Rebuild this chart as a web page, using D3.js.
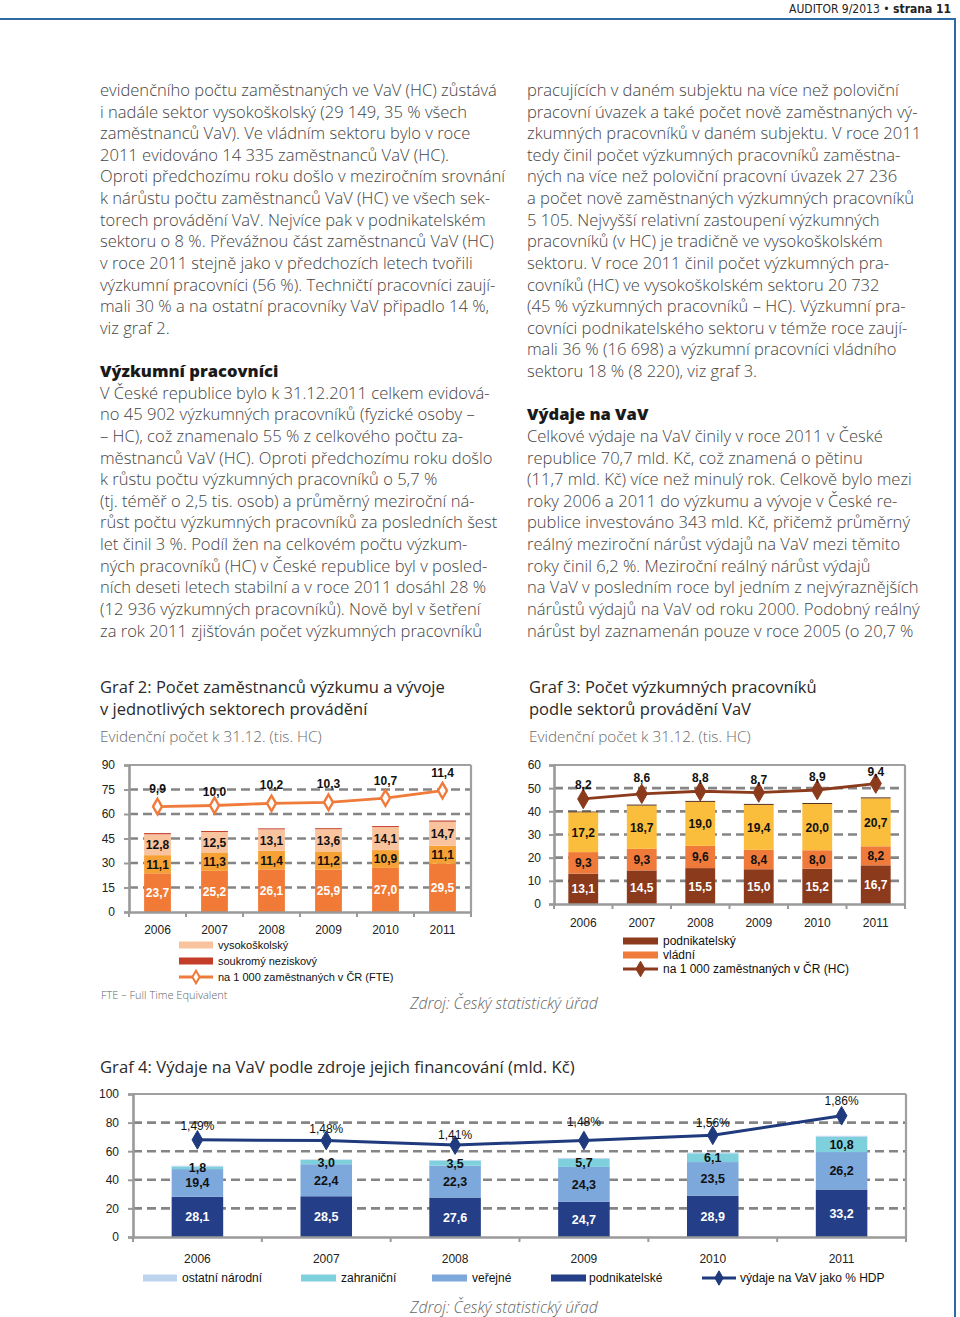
<!DOCTYPE html>
<html><head><meta charset="utf-8">
<script src="https://cdn.jsdelivr.net/npm/d3@7"></script>
<style>
html,body{margin:0;padding:0;background:#fff;}
svg{display:block;}
</style></head>
<body>
<script>
// ---------------- DATA ----------------
const years = ["2006","2007","2008","2009","2010","2011"];

// Graf 2 (tis. HC / FTE)
const g2Podnik = [23.7,25.2,26.1,25.9,27.0,29.5];
const g2Vladni = [11.1,11.3,11.4,11.2,10.9,11.1];
const g2Vysoko = [12.8,12.5,13.1,13.6,14.1,14.7];
const g2Nezisk = [0.7,0.6,0.6,0.6,0.6,0.7];
const g2Line   = [9.9,10.0,10.2,10.3,10.7,11.4];

// Graf 3
const g3Podnik = [13.1,14.5,15.5,15.0,15.2,16.7];
const g3Vladni = [9.3,9.3,9.6,8.4,8.0,8.2];
const g3Vysoko = [17.2,18.7,19.0,19.4,20.0,20.7];
const g3Nezisk = [0.3,0.4,0.4,0.4,0.4,0.4];
const g3Line   = [8.2,8.6,8.8,8.7,8.9,9.4];

// Graf 4 (mld. Kč)
const g4Podnik  = [28.1,28.5,27.6,24.7,28.9,33.2];
const g4Verejne = [19.4,22.4,22.3,24.3,23.5,26.2];
const g4Zahran  = [1.8,3.0,3.5,5.7,6.1,10.8];
const g4Ostatni = [0.5,0.4,0.4,0.6,0.5,0.6];
const g4Hdp     = [1.49,1.48,1.41,1.48,1.56,1.86];

const g2Ticks = [0,15,30,45,60,75,90];
const g3Ticks = [0,10,20,30,40,50,60];
const g4Ticks = [0,20,40,60,80,100];

const col1 = [
"evidenčního počtu zaměstnaných ve VaV (HC) zůstává",
"i nadále sektor vysokoškolský (29 149, 35 % všech",
"zaměstnanců VaV). Ve vládním sektoru bylo v roce",
"2011 evidováno 14 335 zaměstnanců VaV (HC).",
"Oproti předchozímu roku došlo v meziročním srovnání",
"k nárůstu počtu zaměstnanců VaV (HC) ve všech sek-",
"torech provádění VaV. Nejvíce pak v podnikatelském",
"sektoru o 8 %. Převážnou část zaměstnanců VaV (HC)",
"v roce 2011 stejně jako v předchozích letech tvořili",
"výzkumní pracovníci (56 %). Techničtí pracovníci zaují-",
"mali 30 % a na ostatní pracovníky VaV připadlo 14 %,",
"viz graf 2.",
"",
"#Výzkumní pracovníci",
"V České republice bylo k 31.12.2011 celkem evidová-",
"no 45 902 výzkumných pracovníků (fyzické osoby –",
"– HC), což znamenalo 55 % z celkového počtu za-",
"městnanců VaV (HC). Oproti předchozímu roku došlo",
"k růstu počtu výzkumných pracovníků o 5,7 %",
"(tj. téměř o 2,5 tis. osob) a průměrný meziroční ná-",
"růst počtu výzkumných pracovníků za posledních šest",
"let činil 3 %. Podíl žen na celkovém počtu výzkum-",
"ných pracovníků (HC) v České republice byl v posled-",
"ních deseti letech stabilní a v roce 2011 dosáhl 28 %",
"(12 936 výzkumných pracovníků). Nově byl v šetření",
"za rok 2011 zjišťován počet výzkumných pracovníků"
];
const col2 = [
"pracujících v daném subjektu na více než poloviční",
"pracovní úvazek a také počet nově zaměstnaných vý-",
"zkumných pracovníků v daném subjektu. V roce 2011",
"tedy činil počet výzkumných pracovníků zaměstna-",
"ných na více než poloviční pracovní úvazek 27 236",
"a počet nově zaměstnaných výzkumných pracovníků",
"5 105. Nejvyšší relativní zastoupení výzkumných",
"pracovníků (v HC) je tradičně ve vysokoškolském",
"sektoru. V roce 2011 činil počet výzkumných pra-",
"covníků (HC) ve vysokoškolském sektoru 20 732",
"(45 % výzkumných pracovníků – HC). Výzkumní pra-",
"covníci podnikatelského sektoru v témže roce zaují-",
"mali 36 % (16 698) a výzkumní pracovníci vládního",
"sektoru 18 % (8 220), viz graf 3.",
"",
"#Výdaje na VaV",
"Celkové výdaje na VaV činily v roce 2011 v České",
"republice 70,7 mld. Kč, což znamená o pětinu",
"(11,7 mld. Kč) více než minulý rok. Celkově bylo mezi",
"roky 2006 a 2011 do výzkumu a vývoje v České re-",
"publice investováno 343 mld. Kč, přičemž průměrný",
"reálný meziroční nárůst výdajů na VaV mezi těmito",
"roky činil 6,2 %. Meziroční reálný nárůst výdajů",
"na VaV v posledním roce byl jedním z nejvýraznějších",
"nárůstů výdajů na VaV od roku 2000. Podobný reálný",
"nárůst byl zaznamenán pouze v roce 2005 (o 20,7 %"
];

// ---------------- DRAW ----------------
const W = 960, H = 1317;
const svg = d3.select("body").append("svg").attr("width", W).attr("height", H);
const BODY_FONT = "'Open Sans', 'DejaVu Sans', sans-serif";
const CHART_FONT = "'Liberation Sans', Arial, sans-serif";

function fitSize(text, family, weight, style, target, base) {
  const t = svg.append("text").attr("font-family", family).attr("font-weight", weight)
    .attr("font-style", style).attr("font-size", base).text(text);
  const w = t.node().getComputedTextLength();
  t.remove();
  return base * target / w;
}

// page frame
svg.append("line").attr("x1", 0).attr("x2", 955).attr("y1", 19).attr("y2", 19)
  .attr("stroke", "#2e6aa6").attr("stroke-width", 2);
svg.append("line").attr("x1", 955).attr("x2", 955).attr("y1", 18).attr("y2", H)
  .attr("stroke", "#2e6aa6").attr("stroke-width", 2);
const hdr = svg.append("text").attr("x", 951).attr("y", 13).attr("text-anchor", "end")
  .attr("font-family", "'DejaVu Sans Condensed','Liberation Sans Narrow',sans-serif")
  .attr("font-size", 12).attr("fill", "#222");
hdr.append("tspan").text("AUDITOR 9/2013 • ");
hdr.append("tspan").attr("font-weight", "bold").text("strana 11");

// body text
const bodySize = fitSize(col1[0], BODY_FONT, 300, "normal", 397, 16);
function textColumn(lines, x, y0) {
  lines.forEach((l, i) => {
    if (!l) return;
    const bold = l.startsWith("#");
    svg.append("text").attr("x", x).attr("y", y0 + i * 21.62)
      .attr("font-family", BODY_FONT)
      .attr("font-weight", bold ? 800 : 300)
      .attr("font-size", bodySize)
      .attr("fill", bold ? "#1a1a1a" : "#444")
      .text(bold ? l.slice(1) : l);
  });
}
textColumn(col1, 100, 96);
textColumn(col2, 527, 96);

// chart titles
function title(lines, x, y0, size, sub, subY) {
  lines.forEach((l, i) => svg.append("text").attr("x", x).attr("y", y0 + i * 22)
    .attr("font-family", BODY_FONT).attr("font-weight", 400).attr("font-size", size)
    .attr("fill", "#2a2a2a").text(l));
  if (sub) svg.append("text").attr("x", x).attr("y", subY)
    .attr("font-family", BODY_FONT).attr("font-weight", 300).attr("font-size", 15.3)
    .attr("fill", "#6a6a6a").text(sub);
}
title(["Graf 2: Počet zaměstnanců výzkumu a vývoje", "v jednotlivých sektorech provádění"], 100, 693, 16.55, "Evidenční počet k 31.12. (tis. HC)", 742);
title(["Graf 3: Počet výzkumných pracovníků", "podle sektorů provádění VaV"], 529, 693, 16.55, "Evidenční počet k 31.12. (tis. HC)", 742);
title(["Graf 4: Výdaje na VaV podle zdroje jejich financování (mld. Kč)"], 100, 1073, 16.65, null, 0);

function zdroj(x, y) {
  svg.append("text").attr("x", x).attr("y", y)
    .attr("font-family", BODY_FONT).attr("font-style", "italic").attr("font-weight", 300)
    .attr("font-size", fitSize("Zdroj: Český statistický úřad", BODY_FONT, 300, "italic", 188, 15))
    .attr("fill", "#666").text("Zdroj: Český statistický úřad");
}
zdroj(410, 1009);
zdroj(410, 1313);
svg.append("text").attr("x", 101).attr("y", 999).attr("font-family", BODY_FONT)
  .attr("font-weight", 300).attr("font-size", 11).attr("fill", "#666").text("FTE – Full Time Equivalent");

// generic chart
function drawChart(cfg) {
  const g = svg.append("g");
  const x = d3.scaleBand().domain(years).range([cfg.x0, cfg.x1]).paddingInner(cfg.pad).paddingOuter(cfg.pad / 2);
  const yMax = cfg.ticks[cfg.ticks.length - 1];
  const y = d3.scaleLinear().domain([0, yMax]).range([cfg.yBot, cfg.yTop]);
  const y2 = d3.scaleLinear().domain([0, cfg.y2Max]).range([cfg.yBot, cfg.yTop]);

  // dashed grid
  g.selectAll(".grid").data(cfg.ticks.filter(t => t > 0 && t < yMax)).join("line")
    .attr("x1", cfg.x0).attr("x2", cfg.x1).attr("y1", d => y(d)).attr("y2", d => y(d))
    .attr("stroke", "#858585").attr("stroke-width", 2.6).attr("stroke-dasharray", "9,5");
  // top + right border
  g.append("line").attr("x1", cfg.x0).attr("x2", cfg.x1).attr("y1", y(yMax)).attr("y2", y(yMax))
    .attr("stroke", "#a0a0a0").attr("stroke-width", 2.2);
  g.append("line").attr("x1", cfg.x1).attr("x2", cfg.x1).attr("y1", y(yMax)).attr("y2", y(0))
    .attr("stroke", "#a0a0a0").attr("stroke-width", 2.2);

  // stacked bars
  const table = years.map((yr, i) => {
    const o = { year: yr };
    cfg.series.forEach(s => o[s.key] = s.values[i]);
    return o;
  });
  const stack = d3.stack().keys(cfg.series.map(s => s.key))(table);
  stack.forEach((layer, li) => {
    const s = cfg.series[li];
    g.selectAll(null).data(layer).join("rect")
      .attr("x", d => x(d.data.year)).attr("width", x.bandwidth())
      .attr("y", d => y(d[1])).attr("height", d => y(d[0]) - y(d[1]))
      .attr("fill", s.color);
  });
  stack.forEach((layer, li) => {
    const s = cfg.series[li];
    if (!s.label) return;
    g.selectAll(null).data(layer).join("text")
      .attr("x", d => x(d.data.year) + x.bandwidth() / 2)
      .attr("y", d => y((d[0] + d[1]) / 2) + 4.5)
      .attr("text-anchor", "middle").attr("font-family", CHART_FONT)
      .attr("font-weight", "bold").attr("font-size", cfg.labelSize)
      .attr("fill", s.labelColor)
      .text(d => d3.format(".1f")(d.data[s.key]).replace(".", ","));
  });

  // axes
  const ya = g.append("g").attr("transform", `translate(${cfg.x0},0)`)
    .call(d3.axisLeft(y).tickValues(cfg.ticks).tickSize(5).tickPadding(cfg.tickPad).tickFormat(d3.format("d")));
  ya.select(".domain").attr("stroke", "#9a9a9a").attr("stroke-width", 2.6);
  ya.selectAll(".tick line").attr("stroke", "#9a9a9a").attr("stroke-width", 2);
  ya.selectAll(".tick text").attr("font-family", CHART_FONT).attr("font-size", 12).attr("fill", "#222");

  const xa = g.append("g").attr("transform", `translate(0,${cfg.yBot})`)
    .call(d3.axisBottom(x).tickSize(0).tickPadding(cfg.xPad));
  xa.select(".domain").attr("stroke", "#9a9a9a").attr("stroke-width", 2.6);
  xa.selectAll(".tick text").attr("font-family", CHART_FONT).attr("font-size", 12).attr("fill", "#222");
  // boundary ticks
  const bounds = d3.range(years.length + 1).map(i => cfg.x0 + i * x.step());
  g.selectAll(null).data(bounds).join("line")
    .attr("x1", d => d).attr("x2", d => d).attr("y1", cfg.yBot).attr("y2", cfg.yBot + 5)
    .attr("stroke", "#9a9a9a").attr("stroke-width", 2);

  // line
  const pts = years.map((yr, i) => [x(yr) + x.bandwidth() / 2, y2(cfg.line.values[i]), cfg.line.values[i]]);
  g.append("path").attr("d", d3.line()(pts.map(p => [p[0], p[1]])))
    .attr("fill", "none").attr("stroke", cfg.line.color).attr("stroke-width", cfg.line.width);
  g.selectAll(null).data(pts).join("path")
    .attr("transform", d => `translate(${d[0]},${d[1]})`)
    .attr("d", d3.symbol(d3.symbolDiamond, cfg.line.size)())
    .attr("fill", cfg.line.hollow ? "#fff" : cfg.line.color)
    .attr("stroke", cfg.line.color).attr("stroke-width", cfg.line.hollow ? 2.4 : 1);
  g.selectAll(null).data(pts).join("text")
    .attr("x", (d, i) => d[0] + (cfg.line.dx ? cfg.line.dx[i] : 0))
    .attr("y", (d, i) => d[1] + (cfg.line.dy ? cfg.line.dy[i] : -12))
    .attr("text-anchor", "middle").attr("font-family", CHART_FONT)
    .attr("font-weight", cfg.line.bold ? "bold" : "normal").attr("font-size", 12).attr("fill", "#111")
    .text(d => cfg.line.fmt(d[2]));

  // legend
  cfg.legend.forEach(l => {
    if (l.type === "line") {
      g.append("line").attr("x1", l.x).attr("x2", l.x + l.w).attr("y1", l.y).attr("y2", l.y)
        .attr("stroke", cfg.line.color).attr("stroke-width", 3);
      g.append("path").attr("transform", `translate(${l.x + l.w / 2},${l.y})`)
        .attr("d", d3.symbol(d3.symbolDiamond, l.size || 50)())
        .attr("fill", cfg.line.hollow ? "#fff" : cfg.line.color)
        .attr("stroke", cfg.line.color).attr("stroke-width", cfg.line.hollow ? 2 : 1);
    } else {
      g.append("rect").attr("x", l.x).attr("y", l.y - 3.5).attr("width", l.w).attr("height", 7).attr("fill", l.color);
    }
    g.append("text").attr("x", l.x + l.w + l.gap).attr("y", l.y + 4)
      .attr("font-family", CHART_FONT).attr("font-size", cfg.legendSize).attr("fill", "#111").text(l.text);
  });
}

const fmt1 = v => d3.format(".1f")(v).replace(".", ",");
const fmtPct = v => d3.format(".2f")(v).replace(".", ",") + "%";

drawChart({
  x0: 129, x1: 471, yTop: 765, yBot: 912, pad: 0.53, ticks: g2Ticks, y2Max: 13.8,
  tickPad: 9, xPad: 13, labelSize: 12,
  series: [
    { key: "podnik", values: g2Podnik, color: "#f07a36", label: true, labelColor: "#fff" },
    { key: "vladni", values: g2Vladni, color: "#f6a135", label: true, labelColor: "#111" },
    { key: "vysoko", values: g2Vysoko, color: "#f9c39e", label: true, labelColor: "#111" },
    { key: "nezisk", values: g2Nezisk, color: "#c43d28", label: false }
  ],
  line: { values: g2Line, color: "#ef7a3a", width: 2.8, size: 70, hollow: true, bold: true, fmt: fmt1,
          dy: [-14, -9, -14, -14, -13, -14] },
  legendSize: 11,
  legend: [
    { x: 179, y: 945, w: 34, gap: 5, color: "#f9c39e", text: "vysokoškolský" },
    { x: 179, y: 961, w: 34, gap: 5, color: "#c43d28", text: "soukromý neziskový" },
    { x: 179, y: 977, w: 34, gap: 5, type: "line", size: 45, text: "na 1 000 zaměstnaných  v ČR (FTE)" }
  ]
});

drawChart({
  x0: 554, x1: 905, yTop: 765, yBot: 904, pad: 0.49, ticks: g3Ticks, y2Max: 10.85,
  tickPad: 8, xPad: 14, labelSize: 12,
  series: [
    { key: "podnik", values: g3Podnik, color: "#8c3a1c", label: true, labelColor: "#fff" },
    { key: "vladni", values: g3Vladni, color: "#ef7a3a", label: true, labelColor: "#111" },
    { key: "vysoko", values: g3Vysoko, color: "#fbbd3c", label: true, labelColor: "#111" },
    { key: "nezisk", values: g3Nezisk, color: "#4a2210", label: false }
  ],
  line: { values: g3Line, color: "#8c3a1c", width: 2.8, size: 110, hollow: false, bold: true, fmt: fmt1,
          dy: [-10, -12, -9, -9, -9, -8] },
  legendSize: 12,
  legend: [
    { x: 623, y: 941, w: 35, gap: 5, color: "#8c3a1c", text: "podnikatelský" },
    { x: 623, y: 955, w: 35, gap: 5, color: "#ef7a3a", text: "vládní" },
    { x: 623, y: 969, w: 35, gap: 5, type: "line", size: 70, text: "na 1 000 zaměstnaných v ČR (HC)" }
  ]
});

drawChart({
  x0: 133, x1: 906, yTop: 1094, yBot: 1237, pad: 0.6, ticks: g4Ticks, y2Max: 100 / 45.6,
  tickPad: 9, xPad: 17, labelSize: 12.5,
  series: [
    { key: "podnik", values: g4Podnik, color: "#243e88", label: true, labelColor: "#fff" },
    { key: "verejne", values: g4Verejne, color: "#7da8dc", label: true, labelColor: "#111" },
    { key: "zahran", values: g4Zahran, color: "#7fd0dd", label: true, labelColor: "#111" },
    { key: "ostatni", values: g4Ostatni, color: "#bcd4ee", label: false }
  ],
  line: { values: g4Hdp, color: "#1f3a7d", width: 3, size: 100, hollow: false, bold: false, fmt: fmtPct,
          dy: [-10, -7, -6, -14, -8, -11] },
  legendSize: 12,
  legend: [
    { x: 143, y: 1278, w: 34, gap: 5, color: "#bcd4ee", text: "ostatní národní" },
    { x: 301, y: 1278, w: 35, gap: 5, color: "#7fd0dd", text: "zahraniční" },
    { x: 432, y: 1278, w: 35, gap: 5, color: "#7da8dc", text: "veřejné" },
    { x: 551, y: 1278, w: 35, gap: 3, color: "#243e88", text: "podnikatelské" },
    { x: 702, y: 1278, w: 34, gap: 4, type: "line", size: 60, text: "výdaje na VaV jako % HDP" }
  ]
});
</script>
</body></html>
